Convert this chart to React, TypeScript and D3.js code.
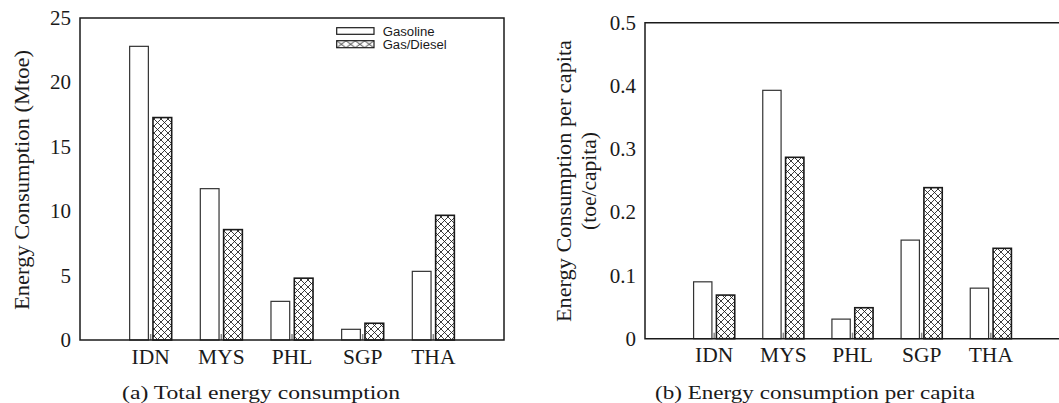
import React from "react";
import * as d3 from "d3";

const categories = ["IDN", "MYS", "PHL", "SGP", "THA"];
const totalGasoline = [22.8, 11.75, 3.0, 0.83, 5.33];
const totalDiesel = [17.27, 8.57, 4.8, 1.3, 9.68];
const perCapGasoline = [0.09, 0.393, 0.031, 0.156, 0.08];
const perCapDiesel = [0.069, 0.287, 0.049, 0.239, 0.143];
const leftTicks = [0, 5, 10, 15, 20, 25];
const rightTicks = [0, 0.1, 0.2, 0.3, 0.4, 0.5];
const seriesNames = ["Gasoline", "Gas/Diesel"];

const SERIF = "'Liberation Serif', 'Times New Roman', serif";
const SANS = "'Liberation Sans', Arial, sans-serif";
const INK = "#1a1a1a";

type PanelProps = {
  x0: number; x1: number; yTop: number; yBot: number;
  yMax: number; ticks: number[]; gas: number[]; dsl: number[];
  tickFmt: (v: number) => string; rightBorder: boolean;
};

function Panel(p: PanelProps) {
  const x = d3.scaleLinear().domain([0, 6]).range([p.x0, p.x1]);
  const y = d3.scaleLinear().domain([0, p.yMax]).range([p.yBot, p.yTop]);
  const bw = 0.265, gap = 0.0325;
  const unit = x(1) - x(0);
  return (
    <g>
      {categories.map((c, i) => {
        const cx = i + 1;
        return (
          <g key={c}>
            <rect x={x(cx - gap - bw)} y={y(p.gas[i])} width={bw * unit} height={p.yBot - y(p.gas[i])}
              fill="#fff" stroke="#333" strokeWidth={1.2} />
            <rect x={x(cx + gap)} y={y(p.dsl[i])} width={bw * unit} height={p.yBot - y(p.dsl[i])}
              fill="url(#xhatch)" stroke={INK} strokeWidth={1.6} />
            <line x1={x(cx)} x2={x(cx)} y1={p.yBot} y2={p.yBot - 6} stroke="#888" strokeWidth={1.5} />
            <text x={x(cx)} y={p.yBot + 23.5} textAnchor="middle" fontFamily={SERIF} fontSize={21.5} fill={INK}>{c}</text>
          </g>
        );
      })}
      {p.ticks.map((t) => (
        <text key={t} x={p.x0 - 9} y={y(t) + 7} textAnchor="end" fontFamily={SERIF} fontSize={21} fill={INK}>{p.tickFmt(t)}</text>
      ))}
      {p.rightBorder ? (
        <rect x={p.x0} y={p.yTop} width={p.x1 - p.x0} height={p.yBot - p.yTop} fill="none" stroke={INK} strokeWidth={1.5} />
      ) : (
        <path d={`M${p.x1},${p.yTop}H${p.x0}V${p.yBot}H${p.x1}`} fill="none" stroke={INK} strokeWidth={1.5} />
      )}
    </g>
  );
}

export default function App() {
  return (
    <svg width={1059} height={403} style={{ position: "absolute", left: 0, top: 0, background: "#fff" }}>
      <defs>
        <pattern id="xhatch" patternUnits="userSpaceOnUse" width={7} height={7}>
          <rect width={7} height={7} fill="#fff" />
          <path d="M0,0L7,7M7,0L0,7" stroke={INK} strokeWidth={0.85} />
        </pattern>
        <pattern id="xhatchLeg" patternUnits="userSpaceOnUse" x={336.7} y={40.7} width={9.3} height={7}>
          <rect width={9.3} height={7} fill="#fff" />
          <path d="M0,0L9.3,7M9.3,0L0,7" stroke={INK} strokeWidth={0.85} />
        </pattern>
      </defs>
      <rect width={1059} height={403} fill="#fff" />
      <Panel x0={80} x1={504} yTop={18} yBot={340} yMax={25} ticks={leftTicks}
        gas={totalGasoline} dsl={totalDiesel} tickFmt={(v) => String(v)} rightBorder={true} />
      <Panel x0={645} x1={1060} yTop={22.7} yBot={338.7} yMax={0.5} ticks={rightTicks}
        gas={perCapGasoline} dsl={perCapDiesel} tickFmt={(v) => (v === 0 ? "0" : d3.format(".1f")(v))} rightBorder={false} />

      {/* legend */}
      <rect x={336.7} y={27.7} width={37.3} height={6.6} fill="#fff" stroke={INK} strokeWidth={1.2} />
      <text x={382.7} y={35.5} fontFamily={SANS} fontSize={12} fill={INK} textLength={52} lengthAdjust="spacingAndGlyphs">{seriesNames[0]}</text>
      <rect x={336.7} y={40.7} width={37.3} height={7} fill="url(#xhatchLeg)" stroke={INK} strokeWidth={1.2} />
      <text x={382.7} y={48.5} fontFamily={SANS} fontSize={12} fill={INK} textLength={64} lengthAdjust="spacingAndGlyphs">{seriesNames[1]}</text>

      {/* axis titles */}
      <text transform="translate(28.5,180) rotate(-90)" textAnchor="middle" fontFamily={SERIF} fontSize={20.5}
        fill={INK} textLength={260} lengthAdjust="spacingAndGlyphs">Energy Consumption (Mtoe)</text>
      <text transform="translate(571,181) rotate(-90)" textAnchor="middle" fontFamily={SERIF} fontSize={20.5}
        fill={INK} textLength={282} lengthAdjust="spacingAndGlyphs">Energy Consumption per capita</text>
      <text transform="translate(596,181) rotate(-90)" textAnchor="middle" fontFamily={SERIF} fontSize={20.5}
        fill={INK} textLength={98} lengthAdjust="spacingAndGlyphs">(toe/capita)</text>

      {/* captions */}
      <text x={261} y={399} textAnchor="middle" fontFamily={SERIF} fontSize={19} fill={INK}
        textLength={278} lengthAdjust="spacingAndGlyphs">(a) Total energy consumption</text>
      <text x={815} y={399} textAnchor="middle" fontFamily={SERIF} fontSize={19} fill={INK}
        textLength={320} lengthAdjust="spacingAndGlyphs">(b) Energy consumption per capita</text>
    </svg>
  );
}
